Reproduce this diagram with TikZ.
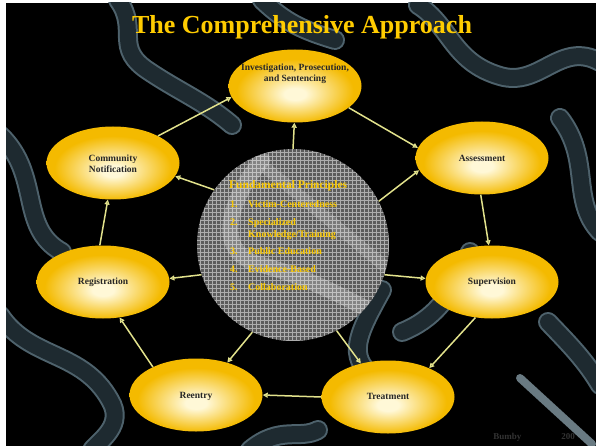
\documentclass[tikz,border=0pt]{standalone}
\usepackage{fontspec}
\setmainfont{Liberation Serif}
\usetikzlibrary{shapes.geometric,arrows.meta}

\definecolor{slidegold}{RGB}{255,204,0}
\definecolor{stagegold}{RGB}{244,186,0}
\definecolor{stagecream}{RGB}{255,248,215}
\definecolor{linkyellow}{RGB}{226,226,140}
\definecolor{principlegold}{RGB}{250,200,0}
\definecolor{swirlslate}{RGB}{30,42,48}
\definecolor{swirledge}{RGB}{78,98,108}
\definecolor{coregray}{RGB}{92,92,92}

% pale spot a little below the middle of each stage
\pgfdeclareradialshading{stageglow}{\pgfpoint{0bp}{-6bp}}{%
  color(0bp)=(stagecream); color(4bp)=(stagecream);
  color(22bp)=(stagegold); color(50bp)=(stagegold)}

\tikzset{
  stage/.style={ellipse, shading=stageglow, minimum width=133pt,
    minimum height=73pt, inner sep=0pt},
  stagetext/.style={font=\fontsize{9.5}{11}\selectfont\bfseries,
    text=black!85, align=center, inner sep=0pt},
  link/.style={draw=linkyellow, line width=1.5pt,
    -{Triangle[open, length=5pt, width=5pt]}},
  principle/.style={font=\fontsize{10}{11}\selectfont\bfseries,
    text=principlegold, anchor=west, inner sep=0pt,
    text height=7pt, text depth=2pt},
  swirl/.style={line cap=round, draw=swirlslate, line width=16pt,
    preaction={draw=swirledge, line width=20pt, line cap=round}},
}

\begin{document}
\begin{tikzpicture}[x=1pt, y=-1pt]
    \useasboundingbox (0,0) rectangle (596,446);

    % Slide background
    \fill[black] (6,3) rectangle (596,446);

    % Puzzle swirls behind everything
    \begin{scope}
        \clip (6,3) rectangle (596,446);
        \draw[swirl] (118,0) .. controls (140,30) and (112,48) .. (150,72)
            .. controls (180,92) and (205,102) .. (232,125);
        \draw[swirl] (262,0) .. controls (285,22) and (302,30) .. (335,40);
        \draw[swirl] (418,5) .. controls (450,25) and (452,62) .. (500,76)
            .. controls (540,88) and (560,40) .. (600,62);
        \draw[swirl] (0,135) .. controls (42,175) and (18,228) .. (62,252);
        \draw[swirl] (0,315) .. controls (30,360) and (82,350) .. (110,400)
            .. controls (125,425) and (100,440) .. (92,450);
        \draw[swirl] (382,290) .. controls (360,330) and (348,352) .. (368,372);
        \draw[swirl] (402,332) .. controls (432,320) and (452,298) .. (470,252);
        \draw[swirl] (560,118) .. controls (592,160) and (570,200) .. (600,232);
        \draw[swirl] (548,322) .. controls (570,345) and (585,360) .. (600,385);
        \draw[swirl] (250,450) .. controls (280,425) and (300,440) .. (318,430);
        \draw[line width=8pt, draw=swirledge!85!white, line cap=round]
            (520,378) -- (592,444);
    \end{scope}

    % Title
    \node[font=\fontsize{26}{30}\selectfont\bfseries, text=slidegold]
        (title) at (302,27) {The Comprehensive Approach};

    % Central circle with its grid texture
    \node[circle, minimum size=192pt, inner sep=0pt, fill=coregray]
        (core) at (293,245) {};
    \begin{scope}
        \clip (293,245) circle (96pt);
        \draw[white, line width=0.45pt, opacity=0.5]
            (190,140) grid[step=4pt] (400,350);
        \draw[white, opacity=0.25, line width=16pt, line cap=round]
            (262,160) .. controls (225,205) and (215,255) .. (262,265)
            .. controls (310,278) and (350,300) .. (392,322);
        \draw[white, opacity=0.18, line width=12pt, line cap=round]
            (268,170) .. controls (300,195) and (340,230) .. (392,272);
    \end{scope}

    % Principles listed in the circle
    \node[principle, font=\fontsize{11.5}{13}\selectfont\bfseries]
        (heading) at (229,186) {Fundamental Principles};
    \foreach \y/\n/\t in {205/1./Victim-Centeredness, 223/2./Specialized,
        235//{Knowledge/Training}, 252/3./Public Education,
        270/4./Evidence-Based, 288/5./Collaboration}
    {
        \node[principle] (num\y) at (230,\y) {\n};
        \node[principle] (item\y) at (248,\y) {\t};
    }

    % Stages around the circle
    \node[stage] (inv) at (295,86) {};
    \node[stage] (as) at (482,158) {};
    \node[stage] (sup) at (492,282) {};
    \node[stage] (tr) at (388,397) {};
    \node[stage] (re) at (196,395) {};
    \node[stage] (reg) at (103,282) {};
    \node[stage] (cn) at (113,163) {};

    \node[stagetext] (invtext) at (295,74) {Investigation, Prosecution,\\and Sentencing};
    \node[stagetext] (astext) at (482,158) {Assessment};
    \node[stagetext] (suptext) at (492,282) {Supervision};
    \node[stagetext] (trtext) at (388,396) {Treatment};
    \node[stagetext] (retext) at (196,396) {Reentry};
    \node[stagetext] (regtext) at (103,282) {Registration};
    \node[stagetext] (cntext) at (113,164) {Community\\Notification};

    % Cycle between the stages
    \draw[link] (cn.31) -- (inv.190);
    \draw[link] (inv.338) -- (as.171);
    \draw[link] (as.268) -- (sup.95);
    \draw[link] (sup.245) -- (tr.35);
    \draw[link] (tr.180) -- (re.0);
    \draw[link] (re.147) -- (reg.295);
    \draw[link] (reg.95) -- (cn.262);

    % Principles feed every stage
    \draw[link] (core.90) -- (inv.269);
    \draw[link] (core.27) -- (as.191);
    \draw[link] (core.342) -- (sup.177);
    \draw[link] (core.297) -- (tr.129);
    \draw[link] (core.245) -- (re.46);
    \draw[link] (core.198) -- (reg.3);
    \draw[link] (core.145) -- (cn.348);

    % Credit line, mostly lost in the dark
    \node[font=\fontsize{9}{10}\selectfont\bfseries, text=black!80!white, inner sep=0pt]
        (credit) at (534,437) {Bumby\hspace{40pt}200};
\end{tikzpicture}
\end{document}
